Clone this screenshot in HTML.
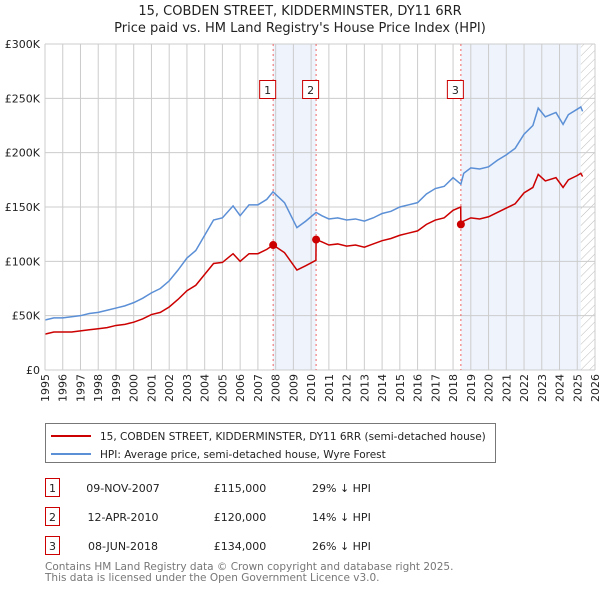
<!DOCTYPE html>
<html><head><meta charset="utf-8"><style>
body{margin:0;background:#fff;font-family:"Liberation Sans","DejaVu Sans",sans-serif;}
svg text{font-family:"DejaVu Sans","Liberation Sans",sans-serif;}
</style></head><body>
<svg id="chart" width="600" height="590" xmlns="http://www.w3.org/2000/svg">
<defs><pattern id="hatch" patternUnits="userSpaceOnUse" width="6" height="6" patternTransform="rotate(45)"><line x1="0" y1="0" x2="0" y2="6" stroke="#bbb" stroke-width="1"/></pattern></defs>
<text x="300" y="15" text-anchor="middle" font-size="13" fill="#222">15, COBDEN STREET, KIDDERMINSTER, DY11 6RR</text>
<text x="300" y="32" text-anchor="middle" font-size="13" fill="#222">Price paid vs. HM Land Registry's House Price Index (HPI)</text>
<g id="plot"></g>
<rect x="45.5" y="423.5" width="450" height="39" fill="#fff" stroke="#777"/>
<line x1="51" y1="436" x2="91" y2="436" stroke="#cc0000" stroke-width="2"/>
<text x="100" y="440" font-size="10.5" fill="#222">15, COBDEN STREET, KIDDERMINSTER, DY11 6RR (semi-detached house)</text>
<line x1="51" y1="454" x2="91" y2="454" stroke="#5b8fd6" stroke-width="2"/>
<text x="100" y="458" font-size="10.5" fill="#222">HPI: Average price, semi-detached house, Wyre Forest</text>
<g font-size="11" fill="#222">
<rect x="45.5" y="478.5" width="14" height="18" fill="#fff" stroke="#cc0000"/><text x="52.5" y="492" text-anchor="middle">1</text>
<text x="123" y="492" text-anchor="middle">09-NOV-2007</text><text x="240" y="492" text-anchor="middle">£115,000</text><text x="312" y="492">29% ↓ HPI</text>
<rect x="45.5" y="507.5" width="14" height="18" fill="#fff" stroke="#cc0000"/><text x="52.5" y="521" text-anchor="middle">2</text>
<text x="123" y="521" text-anchor="middle">12-APR-2010</text><text x="240" y="521" text-anchor="middle">£120,000</text><text x="312" y="521">14% ↓ HPI</text>
<rect x="45.5" y="536.5" width="14" height="18" fill="#fff" stroke="#cc0000"/><text x="52.5" y="550" text-anchor="middle">3</text>
<text x="123" y="550" text-anchor="middle">08-JUN-2018</text><text x="240" y="550" text-anchor="middle">£134,000</text><text x="312" y="550">26% ↓ HPI</text>
</g>
<text x="45" y="570" font-size="10.5" fill="#777">Contains HM Land Registry data © Crown copyright and database right 2025.</text>
<text x="45" y="581" font-size="10.5" fill="#777">This data is licensed under the Open Government Licence v3.0.</text>
</svg>
<script>
const hpiYears=[1995,1995.5,1996,1996.5,1997,1997.5,1998,1998.5,1999,1999.5,2000,2000.5,2001,2001.5,2002,2002.5,2003,2003.5,2004,2004.5,2005,2005.6,2006,2006.5,2007,2007.5,2007.85,2008.5,2009.2,2009.7,2010.28,2010.6,2011,2011.5,2012,2012.5,2013,2013.5,2014,2014.5,2015,2015.5,2016,2016.5,2017,2017.5,2018,2018.44,2018.6,2019,2019.5,2020,2020.5,2021,2021.5,2022,2022.5,2022.8,2023.2,2023.8,2024.2,2024.5,2025,2025.2,2025.3];
const hpiValues=[46,48,48,49,50,52,53,55,57,59,62,66,71,75,82,92,103,110,124,138,140,151,142,152,152,157,164,154,131,137,145,142,139,140,138,139,137,140,144,146,150,152,154,162,167,169,177,171,181,186,185,187,193,198,204,217,225,241,233,237,226,235,240,242,238];
const priceYears=[1995,1995.5,1996,1996.5,1997,1997.5,1998,1998.5,1999,1999.5,2000,2000.5,2001,2001.5,2002,2002.5,2003,2003.5,2004,2004.5,2005,2005.6,2006,2006.5,2007,2007.5,2007.86,2008.5,2009.2,2009.7,2010.27,2010.28,2010.6,2011,2011.5,2012,2012.5,2013,2013.5,2014,2014.5,2015,2015.5,2016,2016.5,2017,2017.5,2018,2018.43,2018.44,2018.6,2019,2019.5,2020,2020.5,2021,2021.5,2022,2022.5,2022.8,2023.2,2023.8,2024.2,2024.5,2025,2025.2,2025.3];
const priceValues=[33,35,35,35,36,37,38,39,41,42,44,47,51,53,58,65,73,78,88,98,99,107,100,107,107,111,115,108,92,96,101,120,118,115,116,114,115,113,116,119,121,124,126,128,134,138,140,147,150,134,137,140,139,141,145,149,153,163,168,180,174,177,168,175,179,181,178];
const saleLabels=["1","2","3"];
const saleYears=[2007.86,2010.28,2018.44];
const saleValues=[115,120,134];
const yTicks=[0,50,100,150,200,250,300];
const yTickLabels=["£0","£50K","£100K","£150K","£200K","£250K","£300K"];
const xYears=[1995,1996,1997,1998,1999,2000,2001,2002,2003,2004,2005,2006,2007,2008,2009,2010,2011,2012,2013,2014,2015,2016,2017,2018,2019,2020,2021,2022,2023,2024,2025,2026];
const X0=45,X1=595,Y0=370,Y1=44,YR0=1995,YR1=2026,VMAX=300;
const xs=y=>X0+(y-YR0)/(YR1-YR0)*(X1-X0);
const ys=v=>Y0-v/VMAX*(Y0-Y1);
const NS="http://www.w3.org/2000/svg";
const plot=document.getElementById('plot');
function mk(t,a,p){const e=document.createElementNS(NS,t);for(const k in a)e.setAttribute(k,a[k]);(p||plot).appendChild(e);return e;}
const shadeStarts=[saleYears[0],saleYears[2]];
const shadeEnds=[saleYears[1],2025.2];
for(let i=0;i<shadeStarts.length;i++){
  const r=mk('rect',{x:xs(shadeStarts[i]),y:Y1,width:xs(shadeEnds[i])-xs(shadeStarts[i]),height:Y0-Y1,fill:'#eef3fc'});
  
  
}
const h=mk('rect',{x:xs(2025.2),y:Y1,width:X1-xs(2025.2),height:Y0-Y1,fill:'url(#hatch)'});


xYears.forEach((yr,i)=>{
  const l=mk('line',{x1:xs(yr),x2:xs(yr),y1:Y1,y2:Y0,stroke:'#ccc'});
  
  
  const t=mk('text',{x:0,y:0,transform:'translate('+(xs(yr)+4)+','+(Y0+32)+') rotate(-90)','font-size':11,fill:'#222'});
  t.textContent=yr;
  
  
});
yTicks.forEach((v,i)=>{
  const l=mk('line',{x1:X0,x2:X1,y1:ys(v),y2:ys(v),stroke:'#ccc'});
  
  
  const t=mk('text',{x:40,y:ys(v)+4,'text-anchor':'end','font-size':11,fill:'#222'});
  t.textContent=yTickLabels[i];
  
  
});
saleYears.forEach((yr,i)=>{
  const l=mk('line',{x1:xs(yr),x2:xs(yr),y1:Y1,y2:Y0,stroke:'#e66','stroke-dasharray':'2,3'});
  
  
  const r=mk('rect',{x:xs(yr)-13.5,y:80.5,width:16,height:18,fill:'#fff',stroke:'#cc0000'});
  
  
  const t=mk('text',{x:xs(yr)-5.5,y:94,'text-anchor':'middle','font-size':11,fill:'#222'});
  t.textContent=saleLabels[i];
  
  
});
const hp=mk('polyline',{points:hpiYears.map((y,i)=>xs(y)+','+ys(hpiValues[i])).join(' '),fill:'none',stroke:'#5b8fd6','stroke-width':1.5});


const pp=mk('polyline',{points:priceYears.map((y,i)=>xs(y)+','+ys(priceValues[i])).join(' '),fill:'none',stroke:'#cc0000','stroke-width':1.5});


saleYears.forEach((yr,i)=>{
  const c=mk('circle',{cx:xs(yr),cy:ys(saleValues[i]),r:4,fill:'#cc0000'});
  
  
});
const ax=mk('line',{x1:X0,x2:X0,y1:Y1,y2:Y0,stroke:'#ccc'});


</script>
</body></html>
